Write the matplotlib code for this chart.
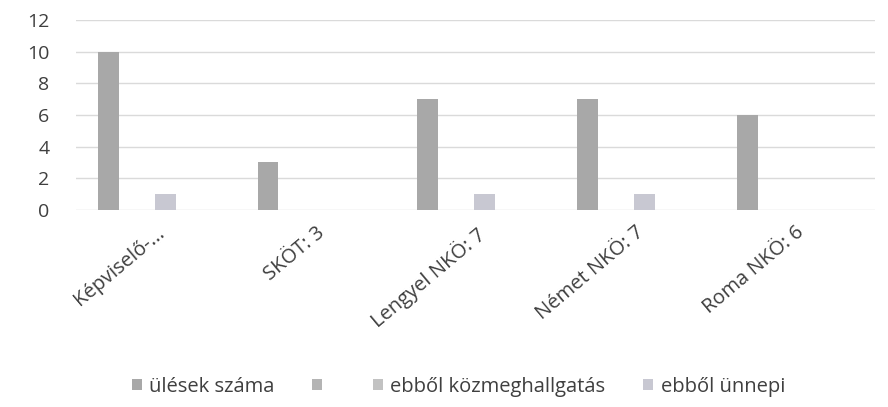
import matplotlib
matplotlib.use("Agg")
import matplotlib.pyplot as plt
import numpy as np

# data
categories = ['Képviselő-...', 'SKÖT: 3', 'Lengyel NKÖ: 7', 'Német NKÖ: 7', 'Roma NKÖ: 6']
ulesek = [10, 3, 7, 7, 6]
ures = [0, 0, 0, 0, 0]
kozmeghallgatas = [0, 0, 0, 0, 0]
unnepi = [1, 0, 1, 1, 0]
series_names = ['ülések száma', ' ', 'ebből közmeghallgatás', 'ebből ünnepi']

plt.rcParams['font.family'] = ['Open Sans', 'DejaVu Sans']

fig = plt.figure(figsize=(8.88, 4.07), dpi=100)
ax = fig.add_axes([0.0856, 0.484, 0.8994, 0.467])

x = np.arange(len(categories))
slot = 0.119
bw = 0.13
colors = ['#a8a8a8', '#b4b4b4', '#c2c2c2', '#c8c8d2']
for i, (vals, col, name) in enumerate(zip([ulesek, ures, kozmeghallgatas, unnepi],
                                          colors, series_names)):
    ax.bar(x + (i - 2.5) * slot, vals, width=bw, color=col, label=name, zorder=3)

ax.set_xlim(-0.5, len(categories) - 0.5)
ax.set_ylim(0, 12)
ax.set_yticks(range(0, 13, 2))
ax.yaxis.grid(True, color='#dadada', linewidth=1)
ax.set_axisbelow(True)
for s in ax.spines.values():
    s.set_visible(False)
ax.tick_params(axis='y', length=0, pad=19, labelsize=14, labelcolor='#3f3f3f')
ax.tick_params(axis='x', length=0, pad=9, labelsize=14.5, labelcolor='#3f3f3f')
ax.set_xticks(x)
ax.set_xticklabels(categories, rotation=40, ha='right', rotation_mode='anchor')

handles, labels = ax.get_legend_handles_labels()
fig.legend(handles, labels, loc='center', bbox_to_anchor=(0.516, 0.05), ncol=4,
           frameon=False, fontsize=14.5, handlelength=0.5, handleheight=0.5,
           handletextpad=0.35, columnspacing=1.9, labelcolor='#3f3f3f')

fig.savefig('out.png', dpi=100)
